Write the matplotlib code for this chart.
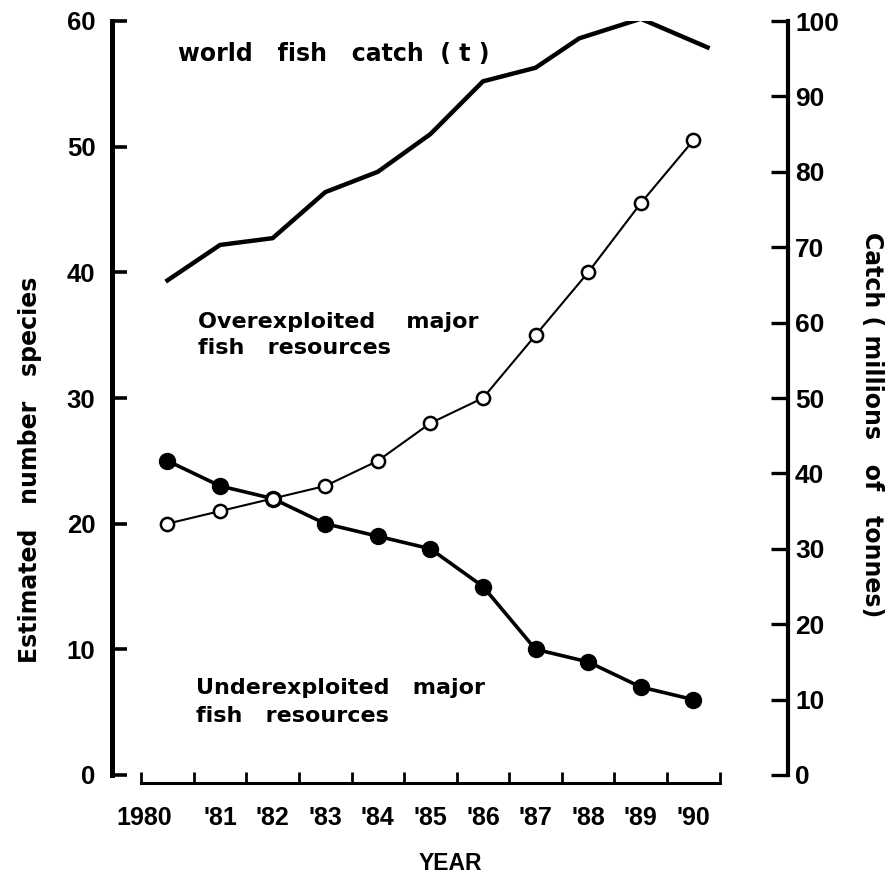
import matplotlib
matplotlib.use("Agg")
import matplotlib.pyplot as plt
from matplotlib.ticker import FixedLocator

# ---- data ----
years = [1980, 1981, 1982, 1983, 1984, 1985, 1986, 1987, 1988, 1989, 1990]
year_labels = ["1980", "'81", "'82", "'83", "'84", "'85", "'86", "'87", "'88", "'89", "'90"]
overexploited = [20, 21, 22, 23, 25, 28, 30, 35, 40, 45.5, 50.5]
underexploited = [25, 23, 22, 20, 19, 18, 15, 10, 9, 7, 6]
catch_x = [1980, 1981, 1982, 1983, 1984, 1985, 1986, 1987, 1987.83, 1989, 1990.27]
world_catch = [65.6, 70.3, 71.2, 77.3, 80.0, 85.0, 92.0, 93.8, 97.7, 100.3, 96.5]
left_ticks = [0, 10, 20, 30, 40, 50, 60]
right_ticks = [0, 10, 20, 30, 40, 50, 60, 70, 80, 90, 100]

plt.rcParams['font.family'] = ['Liberation Sans', 'DejaVu Sans']

W, H = 892, 876
fig = plt.figure(figsize=(W / 100, H / 100), dpi=100)
L, R, B, T = 112, 788, 775, 21
ax = fig.add_axes([L / W, (H - B) / H, (R - L) / W, (B - T) / H])
ax2 = ax.twinx()

ax.set_xlim(1978.945, 1991.80)
ax.set_ylim(0, 60)
ax2.set_ylim(0, 100)

# series
ax.plot(years, underexploited, color='black', lw=2.6, marker='o', ms=11.5,
        mfc='black', mec='black', zorder=4)
ax.plot(years, overexploited, color='black', lw=1.5, marker='o', ms=9.5,
        mfc='white', mec='black', mew=1.8, zorder=5)
ax2.plot(catch_x, world_catch, color='black', lw=3.2)

# spines
for a in (ax, ax2):
    a.spines['top'].set_visible(False)
ax.spines['right'].set_visible(False)
ax2.spines['left'].set_visible(False)
ax2.spines['bottom'].set_visible(False)
ax.spines['left'].set_linewidth(3.6)
ax2.spines['right'].set_linewidth(3.0)
ax.spines['bottom'].set_linewidth(2.2)
ax.spines['bottom'].set_position(('outward', 6))
ax.spines['bottom'].set_bounds(1979.5, 1990.5)

# left y ticks
ax.yaxis.set_major_locator(FixedLocator(left_ticks))
ax.set_yticklabels([str(v) for v in left_ticks], fontsize=18.5, fontweight='heavy')
ax.tick_params(axis='y', direction='in', length=11, width=2.6, pad=12)

# right y ticks
ax2.yaxis.set_major_locator(FixedLocator(right_ticks))
ax2.set_yticklabels([str(v) for v in right_ticks], fontsize=19, fontweight='bold')
ax2.tick_params(axis='y', direction='in', length=12, width=2.4, pad=5)

# x ticks: boundaries as minor ticks, labels at years
ax.xaxis.set_major_locator(FixedLocator([1979.55] + years[1:]))
ax.set_xticklabels(year_labels, fontsize=18, fontweight='bold')
ax.xaxis.set_minor_locator(FixedLocator([y - 0.5 for y in years] + [years[-1] + 0.5]))
ax.tick_params(axis='x', which='major', length=0, pad=16)
ax.tick_params(axis='x', which='minor', direction='in', length=8, width=2.0)

ax.set_xlabel('YEAR', fontsize=16.5, fontweight='bold', labelpad=16)

# axis titles
fig.text(30 / W, 1 - 470 / H, 'Estimated   number   species', rotation=90,
         ha='center', va='center', fontsize=17, fontweight='bold',
         family=['DejaVu Sans'])
fig.text(872 / W, 1 - 425 / H, 'Catch ( millions   of   tonnes)', rotation=270,
         ha='center', va='center', fontsize=17, fontweight='bold',
         family=['DejaVu Sans'])

# annotations
def ftext(x, y, s, fs=16):
    fig.text(x / W, 1 - y / H, s, ha='left', va='center', fontsize=fs,
             fontweight='bold', family=['DejaVu Sans'])

ftext(178, 54, 'world   fish   catch  ( t )', fs=17)
ftext(198, 322, 'Overexploited    major')
ftext(198, 348, 'fish   resources')
ftext(196, 688, 'Underexploited   major')
ftext(196, 716, 'fish   resources')

fig.savefig('out.png', dpi=100)
